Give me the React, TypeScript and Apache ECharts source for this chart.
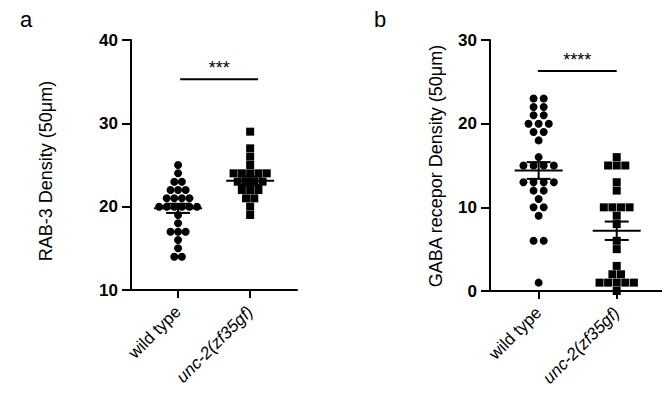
import React, { useEffect, useRef } from "react";
import * as echarts from "echarts";

// ---------- data ----------
const groups = ["wild type", "unc-2(zf35gf)"];
const groupX = [1, 2];

// Panel a: RAB-3 density
const rabWild = [25, 24, 23, 23, 22, 22, 22, 21, 21, 21, 21, 20, 20, 20, 20, 20, 20, 19, 18, 17, 17, 17, 16, 15, 14, 14];
const rabUnc = [29, 27, 26, 25, 24, 24, 24, 24, 24, 23, 23, 23, 23, 22, 22, 22, 21, 21, 20, 19];
const rabMean = [19.8, 23.1];
const rabSem = [0.55, 0.5];
const rabTicks = [10, 20, 30, 40];

// Panel b: GABA receptor density
const gabaWild = [23, 23, 22, 22, 21, 21, 20, 20, 20, 19, 19, 18, 16, 15, 15, 15, 15, 13, 13, 13, 13, 12, 12, 11, 10, 10, 9, 6, 6, 1];
const gabaUnc = [16, 15, 15, 15, 13, 12, 10, 10, 10, 10, 9, 8, 6, 5, 3, 2, 2, 1, 1, 1, 1, 1, 0];
const gabaMean = [14.4, 7.2];
const gabaSem = [1.0, 1.1];
const gabaTicks = [0, 10, 20, 30];

const sigA = { x: [1.03, 2.11], y: 35.3, text: "***" };
const sigB = { x: [0.99, 2.0], y: 26.3, text: "****" };

// ---------- helpers ----------
const FONT = "'Liberation Sans', Arial, Helvetica, sans-serif";

function swarm(vals: number[], center: number, step: number) {
  const byVal: Record<string, number> = {};
  vals.forEach((v) => (byVal[v] = (byVal[v] || 0) + 1));
  const out: number[][] = [];
  Object.keys(byVal).forEach((k) => {
    const n = byVal[k];
    for (let i = 0; i < n; i++) out.push([center + (i - (n - 1) / 2) * step, Number(k)]);
  });
  return out;
}

function errSeries(idx: number, mean: number[], sem: number[]) {
  return {
    type: "custom",
    xAxisIndex: idx,
    yAxisIndex: idx,
    z: 10,
    data: groupX.map((x, i) => [x, mean[i], sem[i]]),
    renderItem: (params: any, api: any) => {
      const x = api.value(0), m = api.value(1), s = api.value(2);
      const c = api.coord([x, m]);
      const hi = api.coord([x, m + s]);
      const lo = api.coord([x, m - s]);
      const st = { stroke: "#000", lineWidth: 2 };
      return {
        type: "group",
        children: [
          { type: "line", shape: { x1: c[0] - 24, y1: c[1], x2: c[0] + 24, y2: c[1] }, style: st },
          { type: "line", shape: { x1: c[0], y1: hi[1], x2: c[0], y2: lo[1] }, style: st },
          { type: "line", shape: { x1: c[0] - 12, y1: hi[1], x2: c[0] + 12, y2: hi[1] }, style: st },
          { type: "line", shape: { x1: c[0] - 12, y1: lo[1], x2: c[0] + 12, y2: lo[1] }, style: st },
        ],
      };
    },
  };
}

function sigSeries(idx: number, sig: { x: number[]; y: number; text: string }) {
  return {
    type: "custom",
    xAxisIndex: idx,
    yAxisIndex: idx,
    silent: true,
    clip: false,
    data: [[sig.x[0], sig.x[1], sig.y]],
    renderItem: (params: any, api: any) => {
      const a = api.coord([api.value(0), api.value(2)]);
      const b = api.coord([api.value(1), api.value(2)]);
      return {
        type: "group",
        children: [
          { type: "line", shape: { x1: a[0], y1: a[1], x2: b[0], y2: b[1] }, style: { stroke: "#000", lineWidth: 2 } },
          {
            type: "text",
            x: (a[0] + b[0]) / 2,
            y: a[1] - 2,
            style: { text: sig.text, align: "center", verticalAlign: "bottom", font: `18px ${FONT}`, fill: "#000" },
          },
        ],
      };
    },
  };
}

function xAxisCfg(idx: number, min: number, max: number) {
  return {
    type: "value",
    gridIndex: idx,
    min,
    max,
    splitLine: { show: false },
    axisLine: { show: true, onZero: false, lineStyle: { color: "#000", width: 2 } },
    axisTick: { show: true, customValues: groupX, length: 8, lineStyle: { color: "#000", width: 2 } },
    axisLabel: {
      show: true,
      customValues: groupX,
      rotate: 45,
      margin: 19,
      fontSize: 17,
      fontFamily: FONT,
      color: "#000",
      formatter: (v: number) => {
        const i = groupX.indexOf(v);
        return i === 1 ? `{i|${groups[i]}}` : `{n|${groups[i]}}`;
      },
      rich: {
        i: { fontStyle: "italic", fontSize: 17, fontFamily: FONT, color: "#000" },
        n: { fontSize: 17, fontFamily: FONT, color: "#000" },
      },
    },
  };
}

function yAxisCfg(idx: number, ticks: number[]) {
  return {
    type: "value",
    gridIndex: idx,
    min: ticks[0],
    max: ticks[ticks.length - 1],
    interval: ticks[1] - ticks[0],
    splitLine: { show: false },
    axisLine: { show: true, lineStyle: { color: "#000", width: 2 } },
    axisTick: { show: true, inside: false, length: 9, lineStyle: { color: "#000", width: 2 } },
    axisLabel: { fontSize: 17, fontWeight: "bold", fontFamily: FONT, color: "#000", margin: 13 },
  };
}

const dot = { color: "#000", opacity: 1 };

export default function App() {
  const ref = useRef<HTMLDivElement>(null);
  useEffect(() => {
    if (!ref.current) return;
    const chart = echarts.init(ref.current, null, { renderer: "svg" });
    chart.setOption({
      animation: false,
      backgroundColor: "#fff",
      grid: [
        { left: 131, top: 40, width: 166, height: 250 },
        { left: 490, top: 40, width: 172, height: 251 },
      ],
      xAxis: [xAxisCfg(0, 0.347, 2.65), xAxisCfg(1, 0.377, 2.58)],
      yAxis: [yAxisCfg(0, rabTicks), yAxisCfg(1, gabaTicks)],
      graphic: [
        { type: "text", left: 20, top: 8, style: { text: "a", font: `22px ${FONT}`, fill: "#000" } },
        { type: "text", left: 374, top: 8, style: { text: "b", font: `22px ${FONT}`, fill: "#000" } },
        {
          type: "text",
          x: 46,
          y: 171,
          rotation: Math.PI / 2,
          style: { text: "RAB-3 Density (50μm)", align: "center", verticalAlign: "middle", font: `18px ${FONT}`, fill: "#000" },
        },
        {
          type: "text",
          x: 436,
          y: 166,
          rotation: Math.PI / 2,
          style: { text: "GABA recepor Density (50μm)", align: "center", verticalAlign: "middle", font: `18px ${FONT}`, fill: "#000" },
        },
      ],
      series: [
        { type: "scatter", xAxisIndex: 0, yAxisIndex: 0, symbol: "circle", symbolSize: 8, itemStyle: dot, data: swarm(rabWild, groupX[0], 0.105) },
        { type: "scatter", xAxisIndex: 0, yAxisIndex: 0, symbol: "rect", symbolSize: 8, itemStyle: dot, data: swarm(rabUnc, groupX[1], 0.115) },
        { type: "scatter", xAxisIndex: 1, yAxisIndex: 1, symbol: "circle", symbolSize: 8, itemStyle: dot, data: swarm(gabaWild, groupX[0], 0.13) },
        { type: "scatter", xAxisIndex: 1, yAxisIndex: 1, symbol: "rect", symbolSize: 8, itemStyle: dot, data: swarm(gabaUnc, groupX[1], 0.11) },
        errSeries(0, rabMean, rabSem),
        errSeries(1, gabaMean, gabaSem),
        sigSeries(0, sigA),
        sigSeries(1, sigB),
      ],
    });
    return () => chart.dispose();
  }, []);
  return <div ref={ref} style={{ position: "fixed", left: 0, top: 0, width: 662, height: 413 }} />;
}
